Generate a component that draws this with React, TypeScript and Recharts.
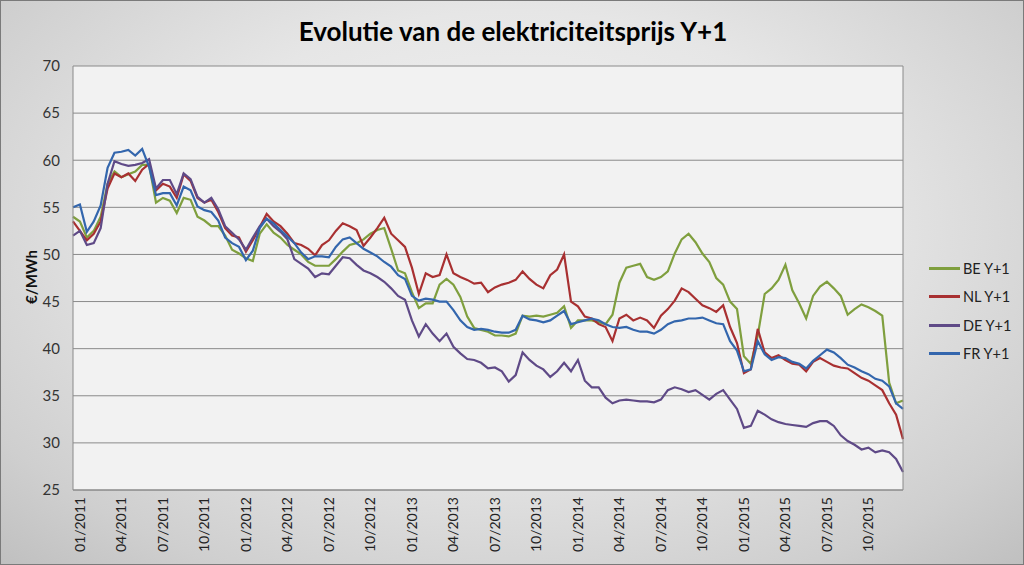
import React from "react";
import { LineChart, Line, XAxis, YAxis, CartesianGrid } from "recharts";

// half-month samples, Jan 2011 .. Dec 2015 (€/MWh)
const BE = [
  54.0, 53.5, 51.8, 52.5, 54.0, 57.5, 58.8, 58.2, 58.5, 58.8,
  59.5, 59.5, 55.5, 56.0, 55.7, 54.4, 56.0, 55.8, 54.0, 53.6,
  53.0, 53.0, 52.0, 50.5, 50.1, 49.6, 49.3, 52.2, 53.2, 52.3,
  51.8, 51.0, 50.5, 50.0, 49.2, 48.8, 48.8, 48.8, 49.5, 50.3,
  51.0, 51.2, 51.6, 52.2, 52.6, 52.8, 50.6, 48.3, 48.0, 46.0,
  44.3, 44.8, 44.8, 46.8, 47.4, 46.8, 45.5, 43.4, 42.2, 42.0,
  41.8, 41.4, 41.4, 41.3, 41.6, 43.5, 43.4, 43.5, 43.4, 43.6,
  43.8, 44.5, 42.2, 43.0, 43.0, 43.0, 42.8, 42.6, 43.6, 47.0,
  48.6, 48.8, 49.0, 47.6, 47.3, 47.6, 48.2, 50.1, 51.6, 52.2,
  51.3, 50.1, 49.2, 47.5, 46.8, 45.0, 44.2, 39.2, 38.4, 41.4,
  45.8, 46.4, 47.3, 48.9, 46.2, 44.8, 43.2, 45.6, 46.6, 47.1,
  46.4, 45.6, 43.6, 44.2, 44.7, 44.4, 44.0, 43.5, 36.4, 34.2,
  34.5,
];

const NL = [
  53.5, 52.5, 51.5, 52.2, 53.5, 57.0, 58.6, 58.2, 58.6, 57.8,
  59.0, 59.6, 56.8, 57.5, 57.2, 56.0, 58.5, 57.8, 56.0, 55.5,
  55.8, 54.5, 52.8, 52.0, 51.8, 50.3, 51.5, 52.9, 54.3, 53.5,
  53.0, 52.2, 51.2, 51.0, 50.6, 49.9, 51.0, 51.5, 52.5, 53.3,
  53.0, 52.6, 50.9, 51.8, 52.8, 53.9, 52.2, 51.5, 50.8, 48.6,
  45.8, 48.0, 47.6, 47.8, 50.0, 48.0, 47.6, 47.3, 46.9, 47.0,
  46.0, 46.5, 46.8, 47.0, 47.3, 48.2, 47.4, 46.8, 46.4, 47.8,
  48.4, 50.0, 45.0, 44.5, 43.4, 43.2, 42.6, 42.3, 40.8, 43.2,
  43.6, 43.0, 43.3, 43.0, 42.2, 43.5, 44.2, 45.1, 46.4, 46.0,
  45.3, 44.6, 44.3, 43.9, 44.6, 42.3, 40.6, 37.4, 37.8, 42.1,
  39.6, 39.0, 39.3, 38.8, 38.4, 38.3, 37.6, 38.6, 39.0, 38.6,
  38.2, 38.0, 37.9, 37.4, 36.9, 36.6, 36.1, 35.6, 34.2, 33.0,
  30.4,
];

const DE = [
  52.0, 52.5, 51.0, 51.2, 52.8, 57.5, 59.9, 59.6, 59.4, 59.5,
  59.7, 60.1, 57.0, 57.9, 57.9, 56.4, 58.6, 58.0, 56.1, 55.5,
  56.0, 54.8, 53.0, 52.3, 51.6, 50.5, 51.8, 53.0, 53.8, 53.0,
  52.4, 51.6, 49.5, 49.0, 48.5, 47.6, 48.0, 47.9, 48.8, 49.7,
  49.6, 48.9, 48.3, 48.0, 47.6, 47.1, 46.4, 45.6, 45.2, 43.0,
  41.3, 42.6, 41.6, 40.8, 41.6, 40.2, 39.5, 38.9, 38.8, 38.5,
  37.9, 38.0, 37.6, 36.5, 37.2, 39.6, 38.8, 38.2, 37.8, 37.0,
  37.6, 38.5, 37.6, 38.8, 36.6, 35.9, 35.9, 34.8, 34.2, 34.5,
  34.6, 34.5, 34.4, 34.4, 34.3, 34.6, 35.6, 35.9, 35.7, 35.4,
  35.6, 35.1, 34.6, 35.2, 35.6, 34.6, 33.6, 31.6, 31.8, 33.4,
  33.0, 32.5, 32.2, 32.0, 31.9, 31.8, 31.7, 32.1, 32.3, 32.3,
  31.8, 30.8, 30.2, 29.8, 29.3, 29.5, 29.0, 29.2, 29.0, 28.3,
  26.9,
];

const FR = [
  55.0, 55.3, 52.4, 53.5, 55.2, 59.2, 60.8, 60.9, 61.1, 60.5,
  61.2, 59.3, 56.3, 56.5, 56.5, 55.2, 57.2, 56.8, 55.1, 54.7,
  54.5, 53.6, 51.8, 51.2, 50.8, 49.4, 50.4, 52.8, 53.8, 53.3,
  52.6, 51.9, 51.2, 50.2, 49.5, 49.8, 49.8, 49.7, 50.8, 51.6,
  51.8, 51.2, 50.6, 50.2, 49.8, 49.2, 48.7, 47.8, 47.4, 45.6,
  45.1, 45.3, 45.2, 45.0, 45.0, 44.1, 43.0, 42.3, 42.0, 42.1,
  42.0, 41.8, 41.7, 41.7, 42.0, 43.5, 43.1, 43.0, 42.8, 43.0,
  43.5, 44.0, 42.6, 42.8, 43.0, 43.2, 43.0, 42.6, 42.3, 42.2,
  42.3, 42.0, 41.8, 41.8, 41.6, 42.0, 42.6, 42.9, 43.0, 43.2,
  43.2, 43.3, 43.0, 42.7, 42.6, 40.8, 39.8, 37.6, 37.8, 40.8,
  39.4, 38.8, 39.1, 39.0, 38.6, 38.4, 37.9, 38.7, 39.3, 39.9,
  39.6, 39.0, 38.3, 38.0, 37.6, 37.3, 36.8, 36.6, 36.0, 34.2,
  33.6,
];

const SERIES = [
  { key: "be", name: "BE Y+1", color: "#7f9f3e" },
  { key: "nl", name: "NL Y+1", color: "#a83031" },
  { key: "de", name: "DE Y+1", color: "#5f4a87" },
  { key: "fr", name: "FR Y+1", color: "#3366ad" },
];

const Y_TICKS = [25, 30, 35, 40, 45, 50, 55, 60, 65, 70];
const X_TICKS = [0, 3, 6, 9, 12, 15, 18, 21, 24, 27, 30, 33, 36, 39, 42, 45, 48, 51, 54, 57];

const data = BE.map((v, i) => ({
  m: i / 2 - 0.5,
  be: v,
  nl: NL[i],
  de: DE[i],
  fr: FR[i],
}));

const FONT = "Lato, 'Open Sans', sans-serif";

const monthLabel = (m: number) => {
  const mm = (m % 12) + 1;
  const yy = 2011 + Math.floor(m / 12);
  return `${mm < 10 ? "0" : ""}${mm}/${yy}`;
};

const XTick = (props: any) => {
  const { x, y, payload } = props;
  return (
    <text
      x={x}
      y={y}
      transform={`rotate(-90 ${x} ${y})`}
      textAnchor="end"
      dy="0.35em"
      fontSize={14}
      fontFamily={FONT}
      fill="#222"
    >
      {monthLabel(payload.value)}
    </text>
  );
};

if (typeof document !== "undefined") document.body.style.margin = "0";

export default function App() {
  return (
    <div
      style={{
        position: "relative",
        width: 1024,
        height: 565,
        boxSizing: "border-box",
        border: "1px solid #7a7a7a",
        background:
          "radial-gradient(ellipse 75% 85% at 50% 40%, #f4f4f4 0%, #e6e6e6 45%, #cfcfcf 80%, #bdbdbd 100%)",
        fontFamily: FONT,
        overflow: "hidden",
      }}
    >
      <div
        style={{
          position: "absolute",
          top: 14,
          left: 0,
          width: 1024,
          textAlign: "center",
          fontSize: 26,
          fontWeight: 700,
          color: "#000",
          paddingLeft: 0,
        }}
      >
        Evolutie van de elektriciteitsprijs Y+1
      </div>
      <div
        style={{
          position: "absolute",
          left: 30,
          top: 276,
          transform: "translate(-50%, -50%) rotate(-90deg)",
          fontSize: 15,
          fontWeight: 700,
          color: "#111",
          whiteSpace: "nowrap",
        }}
      >
        €/MWh
      </div>
      <div style={{ position: "absolute", left: -1, top: -1 }}>
        <LineChart
          width={1024}
          height={565}
          data={data}
          margin={{ top: 66, right: 120, bottom: 0, left: 0 }}
        >
          <CartesianGrid vertical={false} stroke="#8a8a8a" fill="#f2f2f2" />
          <XAxis
            dataKey="m"
            type="number"
            domain={[-0.5, 59.5]}
            ticks={X_TICKS}
            interval={0}
            height={75}
            tickSize={0}
            tickMargin={7}
            tick={<XTick />}
            axisLine={{ stroke: "#8a8a8a" }}
            tickLine={false}
          />
          <YAxis
            type="number"
            domain={[25, 70]}
            ticks={Y_TICKS}
            interval={0}
            width={73}
            tickSize={0}
            tickMargin={13}
            tickLine={false}
            axisLine={{ stroke: "#8a8a8a" }}
            tick={{ fontSize: 15, fill: "#333", fontFamily: FONT }}
          />
          <YAxis
            yAxisId="r"
            orientation="right"
            width={1}
            tick={false}
            tickLine={false}
            axisLine={{ stroke: "#8a8a8a" }}
          />
          {SERIES.map((s) => (
            <Line
              key={s.key}
              dataKey={s.key}
              name={s.name}
              type="linear"
              stroke={s.color}
              strokeWidth={2.2}
              dot={false}
              isAnimationActive={false}
            />
          ))}
        </LineChart>
      </div>
      <div style={{ position: "absolute", left: 928, top: 253 }}>
        {SERIES.map((s) => (
          <div
            key={s.key}
            style={{ display: "flex", alignItems: "center", height: 28.5 }}
          >
            <div style={{ width: 31, height: 3, background: s.color, marginRight: 3 }} />
            <span style={{ fontSize: 14.5, color: "#222" }}>{s.name}</span>
          </div>
        ))}
      </div>
    </div>
  );
}
